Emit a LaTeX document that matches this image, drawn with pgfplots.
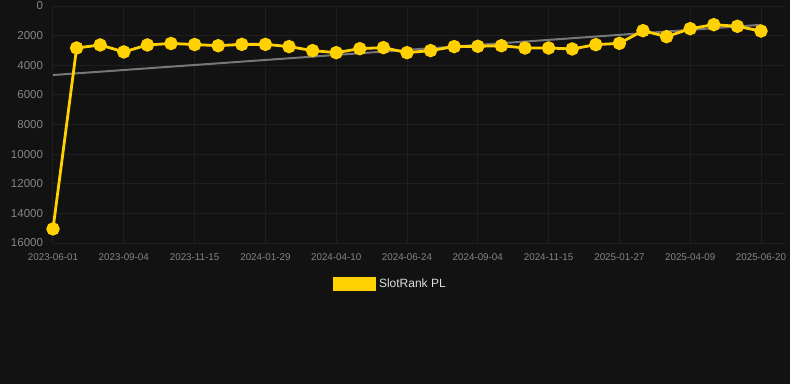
\documentclass[border=0pt]{standalone}
\usepackage{pgfplots}
\pgfplotsset{compat=1.18}
\usepackage{fontspec}
\setmainfont{Liberation Sans}
\definecolor{bg}{HTML}{121212}
\definecolor{gridc}{HTML}{1F1F1F}
\definecolor{ylw}{HTML}{FFD100}
\definecolor{tickc}{HTML}{858585}
\definecolor{trend}{HTML}{777777}
\definecolor{legc}{HTML}{DDDDDD}
\begin{document}
\begin{tikzpicture}
\path[fill=bg, use as bounding box] (0,0) rectangle (790pt,384pt);
\begin{axis}[
  at={(53pt,141pt)}, anchor=south west,
  scale only axis, width=731.6pt, height=237pt,
  xmin=0, xmax=31, ymin=0, ymax=16000, y dir=reverse,
  axis line style={draw=none},
  major tick length=0pt,
  xtick={0,3,...,30},
  xticklabels={2023-06-01,2023-09-04,2023-11-15,2024-01-29,2024-04-10,2024-06-24,2024-09-04,2024-11-15,2025-01-27,2025-04-09,2025-06-20},
  ytick={0,2000,...,16000},
  grid=major,
  major grid style={draw=gridc, line width=1pt},
  ticklabel style={text=tickc},
  xticklabel style={font=\fontsize{9.8}{10}\selectfont, yshift=-7pt},
  yticklabel style={font=\fontsize{11.5}{12}\selectfont, xshift=-6.5pt},
  scaled y ticks=false,
  /pgf/number format/1000 sep={},
  /pgf/number format/assume math mode=true,
  clip=false,
  legend style={at={(axis description cs:0.462,-0.173)}, anchor=center,
    draw=none, fill=none, text=legc, font=\fontsize{12}{13}\selectfont,
    nodes={inner sep=3.5pt}},
  legend image code/.code={\fill[ylw] (0pt,-6pt) rectangle (40pt,6pt);},
]
\addplot[trend, line width=2pt, forget plot] coordinates {(0,4660) (30,1270)};
\addplot[ylw, line width=2.8pt, mark=*, mark size=5.3pt, mark options={fill=ylw, draw=none}] coordinates {
(0,15050) (1,2835) (2,2630) (3,3100) (4,2630) (5,2530) (6,2600) (7,2680)
(8,2590) (9,2590) (10,2740) (11,3010) (12,3150) (13,2880) (14,2810) (15,3150)
(16,3010) (17,2740) (18,2720) (19,2680) (20,2835) (21,2835) (22,2900) (23,2610)
(24,2520) (25,1665) (26,2070) (27,1530) (28,1260) (29,1370) (30,1690)
};
\addlegendentry{SlotRank PL}
\end{axis}
\end{tikzpicture}
\end{document}
